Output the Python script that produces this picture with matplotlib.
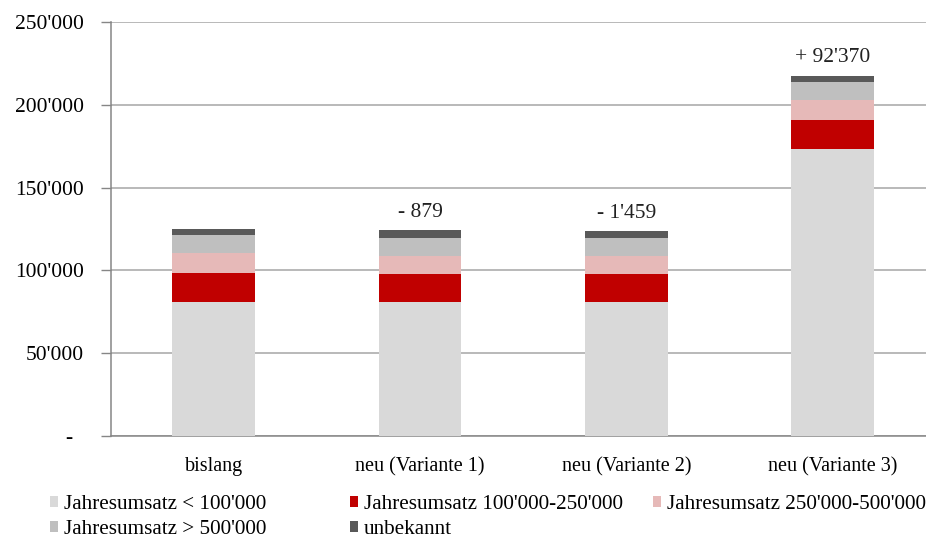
import numpy as np
import matplotlib
matplotlib.use("Agg")
import matplotlib.pyplot as plt

plt.rcParams['font.family'] = ['Liberation Serif', 'DejaVu Serif']

categories = ["bislang", "neu (Variante 1)", "neu (Variante 2)", "neu (Variante 3)"]
series_names = ["Jahresumsatz < 100'000", "Jahresumsatz 100'000-250'000",
                "Jahresumsatz 250'000-500'000", "Jahresumsatz > 500'000", "unbekannt"]
umsatz_lt100 = [80900, 80900, 80900, 173100]
umsatz_100_250 = [17400, 16700, 16900, 17700]
umsatz_250_500 = [12400, 11300, 11100, 12100]
umsatz_gt500 = [10500, 10800, 10800, 10700]
unbekannt = [4000, 4600, 4000, 4000]
diff_labels = ["", "- 879", "- 1'459", "+ 92'370"]
yticks = [0, 50000, 100000, 150000, 200000, 250000]

colors = ["#d9d9d9", "#c00000", "#e6b9b8", "#bfbfbf", "#595959"]
series = [umsatz_lt100, umsatz_100_250, umsatz_250_500, umsatz_gt500, unbekannt]

fig = plt.figure(figsize=(9.26, 5.42), dpi=100)
ax = fig.add_axes([110.5 / 926, 106 / 542, 825.2 / 926, 414 / 542])

x = np.arange(len(categories))
bottom = np.zeros(len(categories))
bars = []
for vals, col, name in zip(series, colors, series_names):
    b = ax.bar(x, vals, 0.4, bottom=bottom, color=col, label=name, zorder=3)
    bars.append(b)
    bottom += np.array(vals)

for xi, tot, lab in zip(x, bottom, diff_labels):
    if lab:
        ax.annotate(lab, (xi, tot), xytext=(0, 13), textcoords="offset points",
                    ha="center", va="center", fontsize=15.5, color="#222222")

ax.set_xlim(-0.5, 3.5)
ax.set_ylim(0, 250000)
ax.set_yticks(yticks)
ax.set_yticklabels(["-  " if v == 0 else f"{v:,}".replace(",", "'") for v in yticks],
                   fontsize=15.5)
ax.set_xticks(x)
ax.set_xticklabels(categories, fontsize=14.5)
ax.tick_params(axis="x", length=0, pad=15)
ax.tick_params(axis="y", length=7, width=1, color="#868686", pad=12)
ax.yaxis.grid(True, color="#a6a6a6", linewidth=1.1, zorder=0)
ax.set_axisbelow(True)
for s in ["top", "right"]:
    ax.spines[s].set_visible(False)
for s in ["left", "bottom"]:
    ax.spines[s].set_color("#868686")
    ax.spines[s].set_linewidth(1.1)

# legend: three fixed columns like the original
cols = [[0, 3], [1, 4], [2]]
col_x = [50, 350, 653]
for idx, cx in zip(cols, col_x):
    fig.legend([bars[i] for i in idx], [series_names[i] for i in idx],
               loc="upper left", bbox_to_anchor=(cx / 926, 47 / 542),
               frameon=False, fontsize=15.2, borderpad=0, borderaxespad=0,
               handlelength=0.4, handleheight=0.4, handletextpad=0.25,
               labelspacing=0.3)

fig.savefig("out.png", dpi=100)
